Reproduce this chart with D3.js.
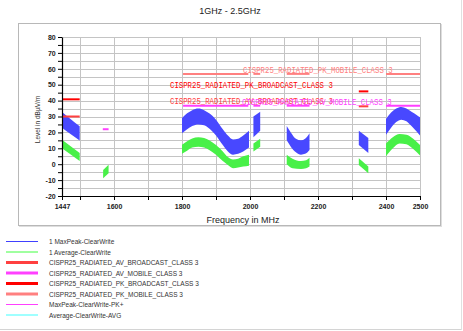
<!DOCTYPE html>
<html><head><meta charset="utf-8">
<script src="https://cdn.jsdelivr.net/npm/d3@7"></script>
<style>
html,body{margin:0;padding:0;background:#fff;}
svg{display:block;}
</style></head>
<body>
<svg id="c" width="463" height="331"></svg>
<script>
// ---------- data ----------
const title = "1GHz - 2.5GHz";
const xLabel = "Frequency in MHz";
const yLabel = "Level in dBµV/m";
const xTickValues = [1447,1500,1600,1700,1800,1900,2000,2100,2200,2300,2400,2500];
const xTickLabels = [1447,1600,1800,2000,2200,2400,2500];
const yTickValues = [-20,-15,-10,-5,0,5,10,15,20,25,30,35,40,45,50,55,60,65,70,75,80];
const yTickLabels = [-20,-10,0,10,20,30,40,50,60,70,80];

// MaxPeak band: segments of [freq, low, high]
const maxPeakSegments = [
  [[1447,23,32.8],[1472,19,28.5],[1499,14.9,23.8]],
  [[1800,19.5,29],[1815,22,32],[1830,24,34],[1848,25,35],[1865,24.5,34],[1880,22.5,32],[1900,18,28],[1920,12,22],[1935,8,18],[1950,6,15.5],[1965,6.5,16],[1980,8,18],[1997,10.5,21]],
  [[2010,17,30],[2030,21,33]],
  [[2108,15,24],[2120,11,20],[2135,7.5,16],[2150,6,15],[2162,6.5,16],[2175,9,19.5]],
  [[2320,12,21],[2348,7,16.5]],
  [[2400,18.5,28.5],[2415,23,32.5],[2430,26.5,35],[2445,28,36],[2460,27,35],[2475,24,33],[2490,20.5,31],[2500,18,29.5]]
];
// Average band
const averageSegments = [
  [[1447,10,15.4],[1499,2,7]],
  [[1568,-8.8,-3.6],[1584,-5.7,-0.4]],
  [[1800,6.5,12.2],[1815,8.5,14.5],[1830,10.5,16.2],[1848,11,17],[1865,10.5,16.5],[1880,9,15],[1900,6,12],[1920,2,8],[1935,-0.5,4.5],[1950,-2.5,3],[1965,-2,3.5],[1980,-1.5,5],[1997,-1,6]],
  [[2010,8,13],[2030,11,16]],
  [[2108,0,6],[2125,-2.5,3.5],[2150,-3,2],[2165,-2.5,2.5],[2175,-1.5,4]],
  [[2320,-0.5,3.8],[2348,-5.7,-1.5]],
  [[2400,5,13],[2420,10,17],[2440,13,19],[2460,12.5,18.5],[2480,9.5,16],[2500,5.5,12]]
];
// Limit lines: [fStart, fEnd, level]
const avBroadcast = [[1447,1499,30],[2320,2348,36.4]];
const pkBroadcast = [[1447,1499,40.8],[2320,2348,45.8]];
const avMobile = [[1567,1584,22],[1803,1995,36.8],[2010,2030,36.8],[2108,2175,36.8],[2400,2500,36.8]];
const pkMobile = [[1803,1995,56.8],[2010,2030,56.8],[2108,2175,56.8],[2400,2500,56.8]];

const legendNames = ["1 MaxPeak-ClearWrite","1 Average-ClearWrite","CISPR25_RADIATED_AV_BROADCAST_CLASS 3","CISPR25_RADIATED_AV_MOBILE_CLASS 3","CISPR25_RADIATED_PK_BROADCAST_CLASS 3","CISPR25_RADIATED_PK_MOBILE_CLASS 3","MaxPeak-ClearWrite-PK+","Average-ClearWrite-AVG"];
const legendColors = ["#4040ff","#40ff40","#ff4040","#ff40ff","#ff0000","#ff8080","#ff40ff","#40ffff"];
const legendWidths = [1,1,3,3,3,3,1,1];

// ---------- drawing ----------
const svg = d3.select("#c");
const X0=62, X1=420, Y0=37, Y1=196;
const x = d3.scaleLinear().domain([1447,2500]).range([X0,X1]);
const y = d3.scaleLinear().domain([-20,80]).range([Y1,Y0]);

// outer frame
svg.append("line").attr("x1",0).attr("x2",462).attr("y1",329.5).attr("y2",329.5).attr("stroke","#d4d4d4");
svg.append("line").attr("x1",461.5).attr("x2",461.5).attr("y1",0).attr("y2",330).attr("stroke","#e0e0e0");
// chart frame + shadow
svg.append("rect").attr("x",19.5).attr("y",24.5).attr("width",422).attr("height",202).attr("fill","none").attr("stroke","#dedede");
svg.append("rect").attr("x",18.5).attr("y",23.5).attr("width",422).attr("height",202).attr("fill","#fff").attr("stroke","#b8b8b8");

// title
svg.append("text").attr("x",230).attr("y",14).attr("text-anchor","middle")
  .style("font-family","Liberation Sans, Arial, sans-serif").style("font-size","9px").attr("fill","#222").text(title);

// grid
const grid = svg.append("g").attr("stroke","#c4c4c4").attr("stroke-width",1);
xTickValues.filter(v=>v>1447).forEach(v=>{
  grid.append("line").attr("x1",Math.round(x(v))+0.5).attr("x2",Math.round(x(v))+0.5).attr("y1",Y0).attr("y2",Y1);
});
yTickValues.forEach(v=>{
  grid.append("line").attr("x1",X0).attr("x2",X1).attr("y1",Math.round(y(v))+0.5).attr("y2",Math.round(y(v))+0.5);
});

// bands
const area = d3.area().x(d=>x(d[0])).y0(d=>y(d[1])).y1(d=>y(d[2])).curve(d3.curveMonotoneX);
svg.append("g").selectAll("path").data(maxPeakSegments).join("path").attr("d",area).attr("fill","#4848ff");
svg.append("g").selectAll("path").data(averageSegments).join("path").attr("d",area).attr("fill","#48f048");

// limit lines
function limits(data,color){
  svg.append("g").selectAll("line").data(data).join("line")
    .attr("x1",d=>x(d[0])).attr("x2",d=>x(d[1])).attr("y1",d=>y(d[2])).attr("y2",d=>y(d[2]))
    .attr("stroke",color).attr("stroke-width",2);
}
limits(pkMobile,"#ff8080");
limits(avMobile,"#ff40ff");
limits(avBroadcast,"#ff4040");
limits(pkBroadcast,"#ff0000");

// limit labels (monospace)
function monoLabel(txt,color,xpos,ypos,anchor){
  svg.append("text").attr("x",xpos).attr("y",ypos).attr("text-anchor",anchor)
    .attr("textLength",txt.length*4.4).attr("lengthAdjust","spacingAndGlyphs")
    .style("font-family","Liberation Mono, monospace").style("font-size","9px").attr("fill",color).text(txt);
}
monoLabel(legendNames[5],"#ff8080",243,y(pkMobile[0][2])-1,"start");
monoLabel(legendNames[4],"#ff0000",170,y(pkBroadcast[1][2])-3,"start");
monoLabel(legendNames[2],"#ff4040",170,y(avBroadcast[1][2])-2,"start");
monoLabel(legendNames[3],"#ff40ff",242,y(avMobile[1][2])-1,"start");

// axes
const fmtX = d=> xTickLabels.includes(d)? String(d) : "";
const fmtY = d=> yTickLabels.includes(d)? String(d) : "";
const gx = svg.append("g").attr("transform",`translate(0,${Y1})`)
  .call(d3.axisBottom(x).tickValues(xTickValues).tickFormat(fmtX).tickSize(4).tickSizeOuter(0));
const gy = svg.append("g").attr("transform",`translate(${X0},0)`)
  .call(d3.axisLeft(y).tickValues(yTickValues).tickFormat(fmtY).tickSize(4).tickSizeOuter(0));
[gx,gy].forEach(g=>{
  g.select(".domain").attr("stroke","#000").attr("stroke-width",1.2);
  g.selectAll(".tick line").attr("stroke","#000");
  g.selectAll("text").style("font-family","Liberation Sans, Arial, sans-serif").style("font-size","7px").style("font-weight","bold").attr("fill","#222");
});
gx.selectAll("text").attr("dy","0.9em");
gy.selectAll("text").attr("dx","0.1em");

svg.append("text").attr("x",243).attr("y",223).attr("text-anchor","middle")
  .style("font-family","Liberation Sans, Arial, sans-serif").style("font-size","9px").attr("fill","#222").text(xLabel);
svg.append("text").attr("transform",`translate(40,${(Y0+Y1)/2+3}) rotate(-90)`).attr("text-anchor","middle")
  .style("font-family","Liberation Sans, Arial, sans-serif").style("font-size","6.5px").attr("fill","#333").text(yLabel);

// legend
const lg = svg.append("g");
legendNames.forEach((n,i)=>{
  const yy = 241.5 + i*10.5;
  lg.append("line").attr("x1",6).attr("x2",38).attr("y1",yy).attr("y2",yy).attr("stroke",legendColors[i]).attr("stroke-width",legendWidths[i]);
  lg.append("text").attr("x",49).attr("y",yy+2.5).style("font-family","Liberation Sans, Arial, sans-serif").style("font-size","6.5px").attr("fill","#333").text(n);
});
</script>
</body></html>
